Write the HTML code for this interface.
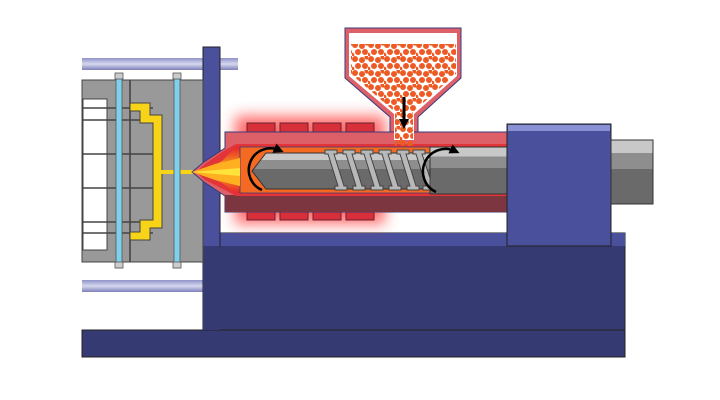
<!DOCTYPE html>
<html><head><style>html,body{margin:0;padding:0;background:#fff;width:720px;height:400px;overflow:hidden}</style></head>
<body>
<svg width="720" height="400" viewBox="0 0 720 400" xmlns="http://www.w3.org/2000/svg">
<defs>
<filter id="blur" x="-30%" y="-50%" width="160%" height="200%"><feGaussianBlur stdDeviation="7"/></filter>
<linearGradient id="rail" x1="0" y1="0" x2="0" y2="1"><stop offset="0" stop-color="#8f93c8"/><stop offset="0.5" stop-color="#d6d8f0"/><stop offset="1" stop-color="#7c80b8"/></linearGradient>
<linearGradient id="cyl" x1="0" y1="0" x2="0" y2="1"><stop offset="0" stop-color="#c8c8c8"/><stop offset="0.2" stop-color="#c8c8c8"/><stop offset="0.2" stop-color="#8e8e8e"/><stop offset="0.45" stop-color="#8e8e8e"/><stop offset="0.45" stop-color="#6a6a6a"/><stop offset="1" stop-color="#6a6a6a"/></linearGradient>
<linearGradient id="melt" x1="0" y1="0" x2="0" y2="1"><stop offset="0" stop-color="#e8262a"/><stop offset="0.3" stop-color="#f47a20"/><stop offset="0.45" stop-color="#ffd020"/><stop offset="0.55" stop-color="#ffd020"/><stop offset="0.7" stop-color="#f47a20"/><stop offset="1" stop-color="#e8262a"/></linearGradient>
<pattern id="pel" width="16" height="14" patternUnits="userSpaceOnUse">
<circle cx="3" cy="3" r="3" fill="#ee5a24"/><circle cx="10" cy="4" r="3" fill="#ee5a24"/><circle cx="15" cy="1" r="2.6" fill="#ee5a24"/><circle cx="6" cy="10" r="3" fill="#ee5a24"/><circle cx="13" cy="10" r="3" fill="#ee5a24"/><circle cx="0" cy="13" r="2.4" fill="#ee5a24"/>
</pattern>
<marker id="ah" markerWidth="10" markerHeight="10" refX="5" refY="5" orient="auto" markerUnits="userSpaceOnUse"><path d="M0,0 L10,5 L0,10 z" fill="#000"/></marker>
</defs>

<rect x="82" y="58" width="156" height="12" fill="url(#rail)"/>
<rect x="82" y="280" width="122" height="12" fill="url(#rail)"/>

<rect x="203" y="233" width="422" height="124" fill="#353b72" stroke="#222" stroke-width="1"/>
<rect x="203" y="233" width="422" height="13" fill="#4a509c"/>
<rect x="82" y="330" width="543" height="27" fill="#353b72" stroke="#222" stroke-width="1"/>
<rect x="203" y="47" width="17" height="200" fill="#4a509c" stroke="#222" stroke-width="1"/>
<rect x="203" y="246" width="17" height="84" fill="#353b72"/>

<rect x="82" y="80" width="121" height="182" fill="#999" stroke="#444" stroke-width="1"/>
<rect x="83" y="99" width="24" height="151" fill="#fff" stroke="#444" stroke-width="1"/>
<g stroke="#444" stroke-width="1.6">
<line x1="82" y1="108" x2="153" y2="108"/><line x1="82" y1="120" x2="153" y2="120"/><line x1="82" y1="154" x2="153" y2="154"/>
<line x1="82" y1="188" x2="153" y2="188"/><line x1="82" y1="222" x2="153" y2="222"/><line x1="82" y1="233" x2="153" y2="233"/>
<line x1="130" y1="80" x2="130" y2="262"/>
</g>
<path d="M130,103 L150,103 L150,115 L162,115 L162,228 L150,228 L150,240 L130,240 L130,232 L140,232 L140,220 L153,220 L153,123 L140,123 L140,111 L130,111 Z" fill="#f7d417" stroke="#444" stroke-width="1"/>
<rect x="160" y="170" width="34" height="4" fill="#f7d417"/>
<rect x="116" y="74" width="6" height="194" fill="#7fd0ea" stroke="#555" stroke-width="0.8"/>
<rect x="174" y="74" width="6" height="194" fill="#7fd0ea" stroke="#555" stroke-width="0.8"/>
<rect x="115" y="73" width="8" height="6" fill="#ccc" stroke="#555" stroke-width="0.8"/>
<rect x="173" y="73" width="8" height="6" fill="#ccc" stroke="#555" stroke-width="0.8"/>
<rect x="115" y="262" width="8" height="6" fill="#ccc" stroke="#555" stroke-width="0.8"/>
<rect x="173" y="262" width="8" height="6" fill="#ccc" stroke="#555" stroke-width="0.8"/>

<rect x="235" y="116" width="150" height="108" fill="#ff3a3a" opacity="0.75" filter="url(#blur)"/>

<g fill="#d8303a" stroke="#6a2030" stroke-width="1">
<rect x="247" y="123" width="28" height="10"/><rect x="280" y="123" width="28" height="10"/><rect x="313" y="123" width="28" height="10"/><rect x="346" y="123" width="28" height="10"/>
<rect x="247" y="211" width="28" height="9"/><rect x="280" y="211" width="28" height="9"/><rect x="313" y="211" width="28" height="9"/><rect x="346" y="211" width="28" height="9"/>
</g>

<path d="M225,132 L508,132 L508,212 L225,212 L225,196 L204,182 L192,172 L204,162 L225,148 Z" fill="#dd6068" stroke="#3a3a7a" stroke-width="1"/>
<path d="M225,195 L508,195 L508,212 L225,212 Z" fill="#7c3640"/>
<path d="M225,150 L236,144 L508,144 L508,196 L236,196 L225,190 L205,180 L196,172 L205,164 Z" fill="#e3343a"/>
<path d="M236,147 L432,147 L432,193 L236,193 L222,183 L200,173 L222,161 Z" fill="url(#melt)"/>
<path d="M240,147 L432,147 L432,193 L240,193 Z" fill="#f56a22" stroke="#3a3a7a" stroke-width="0.8"/>
<path d="M192,172 L215,164 L240,158 L240,186 L215,180 Z" fill="#ffb020"/>
<path d="M192,172 L240,168 L240,176 Z" fill="#ffe23a"/>
<path d="M266,153 L432,153 L432,189 L266,189 L252,171 Z" fill="url(#cyl)" stroke="#333" stroke-width="1"/>
<rect x="430" y="147" width="78" height="47" fill="url(#cyl)" stroke="#333" stroke-width="1"/>
<g fill="#b8b8b8" stroke="#444" stroke-width="1">
<path d="M325,150 L337,150 L337,154 L334,154 L344,186 L347,186 L347,190 L335,190 L335,186 L338,186 L328,154 L325,154 Z"/>
<path d="M343,150 L355,150 L355,154 L352,154 L362,186 L365,186 L365,190 L353,190 L353,186 L356,186 L346,154 L343,154 Z"/>
<path d="M361,150 L373,150 L373,154 L370,154 L380,186 L383,186 L383,190 L371,190 L371,186 L374,186 L364,154 L361,154 Z"/>
<path d="M379,150 L391,150 L391,154 L388,154 L398,186 L401,186 L401,190 L389,190 L389,186 L392,186 L382,154 L379,154 Z"/>
<path d="M397,150 L409,150 L409,154 L406,154 L416,186 L419,186 L419,190 L407,190 L407,186 L410,186 L400,154 L397,154 Z"/>
<path d="M413,150 L425,150 L425,154 L422,154 L430,178 L430,190 L423,190 L423,186 L426,186 L416,154 L413,154 Z"/>
</g>

<path d="M345,28 L461,28 L461,78 L418,117 L418,132 L390,132 L390,117 L345,78 Z" fill="#dd6068" stroke="#3a3a7a" stroke-width="1"/>
<path d="M349,33 L457,33 L457,76 L414,114 L414,140 L394,140 L394,114 L349,76 Z" fill="#fff"/>
<path d="M351,44 L456,44 L456,74 L413,112 L413,146 L395,146 L395,112 L351,74 Z" fill="url(#pel)"/>
<line x1="404" y1="97" x2="404" y2="124" stroke="#000" stroke-width="3" marker-end="url(#ah)"/>

<path d="M262,190 A20,20 0 0 1 279,150" fill="none" stroke="#000" stroke-width="2.5" marker-end="url(#ah)"/>
<path d="M436,192 A20,20 0 0 1 455,151" fill="none" stroke="#000" stroke-width="2.5" marker-end="url(#ah)"/>

<rect x="507" y="124" width="104" height="122" fill="#4a509c" stroke="#222" stroke-width="1"/>
<rect x="508" y="125" width="102" height="6" fill="#8a90d4"/>
<rect x="611" y="140" width="42" height="64" fill="url(#cyl)" stroke="#333" stroke-width="1"/>
</svg>
</body></html>
